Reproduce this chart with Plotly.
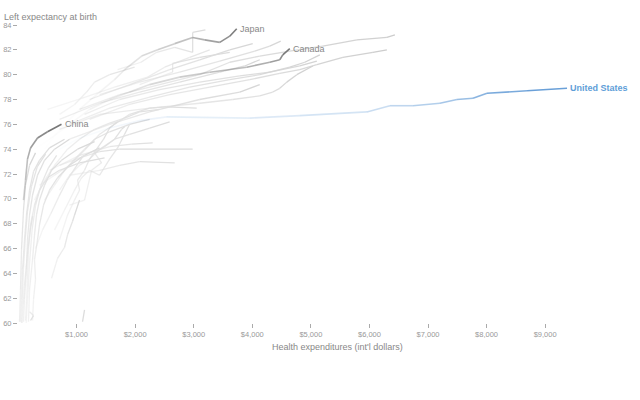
import plotly.graph_objects as go

# health spending (int'l $) and life expectancy paths
countries = [
    "Norway", "Switzerland", "Netherlands", "Austria", "Germany", "France", "Iceland",
    "Sweden", "Denmark", "Italy", "Spain", "Australia", "Israel", "Belgium", "Finland",
    "Greece", "Korea", "Portugal", "Ireland", "Chile", "Czech Republic", "Poland",
    "Mexico", "Turkey", "Hungary", "Estonia", "Slovakia", "Slovenia", "Brazil",
    "Russia", "India", "Indonesia", "South Africa", "Argentina", "Colombia", "Egypt",
]
spend = [
    [1051, 1735, 2418, 3102, 3615, 4127, 4640, 5204, 5786, 6298, 6435],
    [1222, 1905, 2589, 3273, 3956, 4469, 4811, 5102, 5546, 6059, 6298],
    [709, 1393, 2248, 3102, 3666, 4127, 4349, 4469, 4589, 4760, 5033],
    [880, 1564, 2248, 2931, 3615, 4127, 4640, 4896, 5153],
    [1136, 1735, 2418, 3102, 3786, 4298, 4811, 5102],
    [1393, 2077, 2760, 3444, 4042, 4298, 4486],
    [1222, 1905, 2589, 3102, 3615, 4008],
    [709, 1393, 2077, 2760, 3444, 3871, 4127],
    [880, 1564, 2248, 3102, 3786, 4127],
    [504, 1085, 1649, 2213, 2504, 2931, 3273],
    [709, 966, 1171, 1307, 1564, 1991],
    [1700, 2100, 2367, 2675, 2982, 2982, 3200],
    [2077, 2640, 2640, 3102, 3615],
    [453, 624, 795, 966, 1136, 1307, 1564, 1905, 2248],
    [709, 880, 1051, 1222, 1393, 1649, 1905, 2248, 2589],
    [880, 1136, 1256, 1427, 1307, 1478, 1649, 1769, 1820],
    [709, 1051, 1393, 1735, 2982],
    [880, 1393, 1735, 2077, 2675],
    [538, 1051, 1564, 1940, 2299],
    [367, 624, 880, 1136, 1393, 1649, 1905, 2248, 2538, 3051],
    [282, 453, 624, 846, 1051, 1307, 1564, 1820, 2077, 2418],
    [624, 795, 966, 1085, 1222, 1393, 1564, 1700, 1820, 1905],
    [709, 846, 966, 1051, 1017, 1136, 1222, 1342, 1461, 1564, 1700],
    [26, 43, 60, 94, 128, 197, 299],
    [94, 111, 145, 162, 197, 248, 333, 453, 624, 880],
    [179, 197, 248, 282, 316, 367, 453, 573, 743, 1017, 1307],
    [248, 265, 299, 282, 333, 367, 436, 538, 675, 880, 1136, 1393],
    [573, 675, 795, 846, 932, 966, 1051],
    [1102, 1136],
    [197, 265, 214],
    [128, 162, 179, 214, 282, 367, 504, 709, 1051, 1478],
    [43, 60, 77, 111, 145, 197, 265, 367, 538, 795],
    [60, 77, 94, 128, 162, 230, 330, 470],
    [300, 420, 560, 700, 840, 990, 1120],
    [140, 170, 200, 240, 300, 400, 520, 660],
    [70, 90, 110, 140, 170, 210, 250],
]
life = [
    [77.2, 78.4, 79.2, 80.0, 81.0, 81.5, 81.9, 82.3, 82.8, 83.0, 83.2],
    [76.4, 77.6, 78.4, 79.0, 79.6, 80.1, 80.4, 80.8, 81.4, 81.8, 82.0],
    [75.6, 76.8, 77.3, 77.7, 78.0, 78.3, 78.6, 78.9, 79.4, 80.0, 80.7],
    [76.0, 77.3, 78.2, 79.0, 79.6, 80.0, 80.6, 81.0, 81.6],
    [76.8, 78.0, 78.8, 79.4, 79.9, 80.2, 80.7, 81.1],
    [78.4, 79.4, 80.2, 81.1, 81.9, 82.3, 82.7],
    [78.0, 79.2, 80.4, 81.2, 82.0, 82.5],
    [76.4, 77.7, 78.6, 79.4, 80.2, 80.7, 81.2],
    [74.8, 76.0, 77.0, 78.0, 78.6, 79.2],
    [77.2, 78.1, 79.0, 79.8, 80.6, 81.4, 82.0],
    [76.8, 77.6, 78.6, 79.4, 80.0, 80.6],
    [80.4, 81.0, 81.8, 82.2, 81.8, 83.4, 83.6],
    [79.2, 80.2, 80.9, 81.4, 81.8],
    [69.9, 71.1, 72.3, 73.2, 74.0, 74.8, 75.4, 76.0, 76.4],
    [70.7, 71.9, 72.7, 73.2, 74.0, 74.8, 75.2, 75.7, 76.2],
    [69.5, 69.9, 72.3, 72.9, 73.7, 74.2, 74.8, 75.6, 75.8],
    [72.7, 73.3, 73.8, 74.0, 74.0],
    [71.9, 72.3, 72.7, 73.0, 72.9],
    [72.3, 73.5, 74.2, 74.4, 74.5],
    [71.1, 71.9, 72.7, 73.9, 75.2, 76.0, 76.8, 77.3, 77.4, 77.3],
    [69.9, 71.5, 72.7, 74.0, 74.8, 75.6, 76.1, 76.5, 77.0, 77.2],
    [67.5, 69.1, 70.7, 71.7, 72.3, 71.9, 73.2, 74.1, 75.2, 76.0],
    [66.7, 68.7, 69.9, 70.7, 71.5, 72.3, 73.2, 74.0, 74.8, 75.7, 76.2],
    [60.1, 62.7, 65.9, 69.1, 71.1, 72.7, 73.7],
    [60.1, 61.9, 64.3, 66.7, 68.7, 70.3, 71.9, 73.1, 74.0, 74.8],
    [60.1, 62.7, 65.1, 67.1, 68.7, 69.9, 71.1, 72.3, 73.1, 74.0, 74.6],
    [60.2, 61.9, 63.5, 65.1, 66.7, 67.9, 69.5, 70.7, 71.7, 72.7, 73.5, 74.1],
    [63.6, 65.2, 66.1, 67.1, 68.2, 68.7, 69.9],
    [60.1, 61.05],
    [60.9, 60.6, 60.2],
    [60.2, 63.5, 65.9, 67.9, 69.5, 70.7, 71.7, 72.3, 72.9, 73.3],
    [60.1, 61.9, 64.3, 66.7, 68.7, 70.7, 72.2, 73.1, 74.1, 74.8],
    [60.0, 62.0, 64.5, 67.0, 69.0, 71.0, 72.6, 73.6],
    [66.0, 67.5, 68.8, 70.2, 71.5, 72.6, 73.5],
    [60.0, 62.5, 65.0, 67.5, 69.5, 71.2, 72.5, 73.5],
    [60.0, 61.5, 63.0, 64.5, 66.0, 67.5, 68.6],
]
gray_shade = [205, 205, 210, 210, 212, 215, 215, 215, 215, 230, 230, 220, 220,
              222, 222, 222, 220, 225, 225, 222, 225, 225, 222, 215, 218, 218,
              220, 220, 220, 225, 222, 220, 225, 228, 228, 228]

japan_spend = [453, 709, 1051, 1393, 1649, 1820, 2111, 2384, 2675, 2982, 3187, 3444, 3615, 3734]
japan_life = [74.0, 75.6, 77.2, 78.6, 79.6, 80.4, 81.5, 82.0, 82.5, 83.0, 82.8, 82.6, 83.1, 83.7]
canada_spend = [282, 538, 880, 1222, 1564, 1905, 2248, 2760, 3273, 3905, 4298, 4469, 4520, 4640]
canada_life = [74.0, 74.8, 76.0, 77.2, 78.0, 78.6, 79.2, 79.8, 80.2, 80.6, 81.0, 81.2, 81.6, 82.1]
china_spend = [94, 128, 162, 214, 333, 504, 743]
china_life = [69.9, 71.5, 73.2, 74.1, 74.9, 75.4, 76.0]
us_spend = [367, 709, 1051, 1564, 2077, 2538, 3956, 4811, 5956, 6349, 6742, 7203, 7494, 7768, 8007, 8691, 9374]
us_life = [72.3, 74.0, 74.9, 75.7, 76.3, 76.6, 76.5, 76.7, 77.0, 77.5, 77.5, 77.7, 78.0, 78.1, 78.5, 78.7, 78.9]

x_ticks = [1000, 2000, 3000, 4000, 5000, 6000, 7000, 8000, 9000]
x_tick_text = [f"${v:,}" for v in x_ticks]
y_ticks = list(range(60, 86, 2))

FONT = "Liberation Sans, Arial, sans-serif"
fig = go.Figure()


def add_faded(xs, ys, rgb, width, a0, a1, power=1.0):
    # plotly has no gradient strokes, so fade the path segment by segment
    n = len(xs)
    for i in range(n - 1):
        t = ((i + 1) / (n - 1)) ** power
        a = a0 + (a1 - a0) * t
        fig.add_trace(go.Scatter(
            x=xs[i:i + 2], y=ys[i:i + 2], mode='lines',
            line=dict(color=f'rgba({rgb[0]},{rgb[1]},{rgb[2]},{a:.3f})', width=width),
            hoverinfo='skip', showlegend=False,
        ))


for name, xs, ys, g in zip(countries, spend, life, gray_shade):
    add_faded(xs, ys, (g, g, g), 1.3, 0.3, 1.0)

add_faded(china_spend, china_life, (120, 120, 120), 1.6, 0.2, 1.0)
add_faded(japan_spend, japan_life, (125, 125, 125), 1.6, 0.0, 1.0, power=2.0)
add_faded(canada_spend, canada_life, (120, 120, 120), 1.6, 0.0, 1.0, power=2.0)
add_faded(us_spend, us_life, (106, 160, 216), 1.6, 0.0, 1.0, power=1.8)

labels = [
    ("Japan", japan_spend[-1], japan_life[-1], '#888888', False),
    ("Canada", canada_spend[-1], canada_life[-1], '#888888', False),
    ("China", china_spend[-1], china_life[-1], '#888888', False),
    ("United States", us_spend[-1], us_life[-1], '#5f9ed8', True),
]
for text, x, y, color, bold in labels:
    fig.add_annotation(
        x=x, y=y, text=f"<b>{text}</b>" if bold else text, showarrow=False,
        xanchor='left', yanchor='middle', xshift=1,
        font=dict(family=FONT, size=9, color=color),
    )

fig.add_annotation(
    text="Left expectancy at birth", xref='paper', yref='paper', x=0, y=1,
    xanchor='left', yanchor='bottom', xshift=-16, yshift=1, showarrow=False,
    font=dict(family=FONT, size=9, color='#888888'),
)
fig.add_annotation(
    text="Health expenditures (int'l dollars)", xref='paper', yref='paper',
    x=0.5, y=0, xanchor='center', yanchor='top', xshift=12, yshift=-17,
    showarrow=False, font=dict(family=FONT, size=9, color='#888888'),
)

fig.update_layout(
    width=640, height=400, autosize=False,
    margin=dict(l=18, r=7, t=25, b=77),
    paper_bgcolor='white', plot_bgcolor='white',
    font=dict(family=FONT, color='#999999'),
    showlegend=False,
    xaxis=dict(
        range=[0, 10500], tickvals=x_ticks, ticktext=x_tick_text,
        showgrid=False, zeroline=False, showline=False,
        ticks='outside', ticklen=4, tickcolor='#aaaaaa', tickwidth=1,
        tickfont=dict(size=7.5, color='#999999'), automargin=False,
    ),
    yaxis=dict(
        range=[60, 84], tickvals=y_ticks, showgrid=False, zeroline=False,
        showline=False, ticks='outside', ticklen=4, tickcolor='#aaaaaa',
        tickfont=dict(size=7.5, color='#999999'), automargin=False,
    ),
)

# drop the browser's default body margin so the 640x400 figure sits at 0,0
fig.write_html("out.html", config={'displayModeBar': False},
               post_script="document.body.style.margin='0';")
